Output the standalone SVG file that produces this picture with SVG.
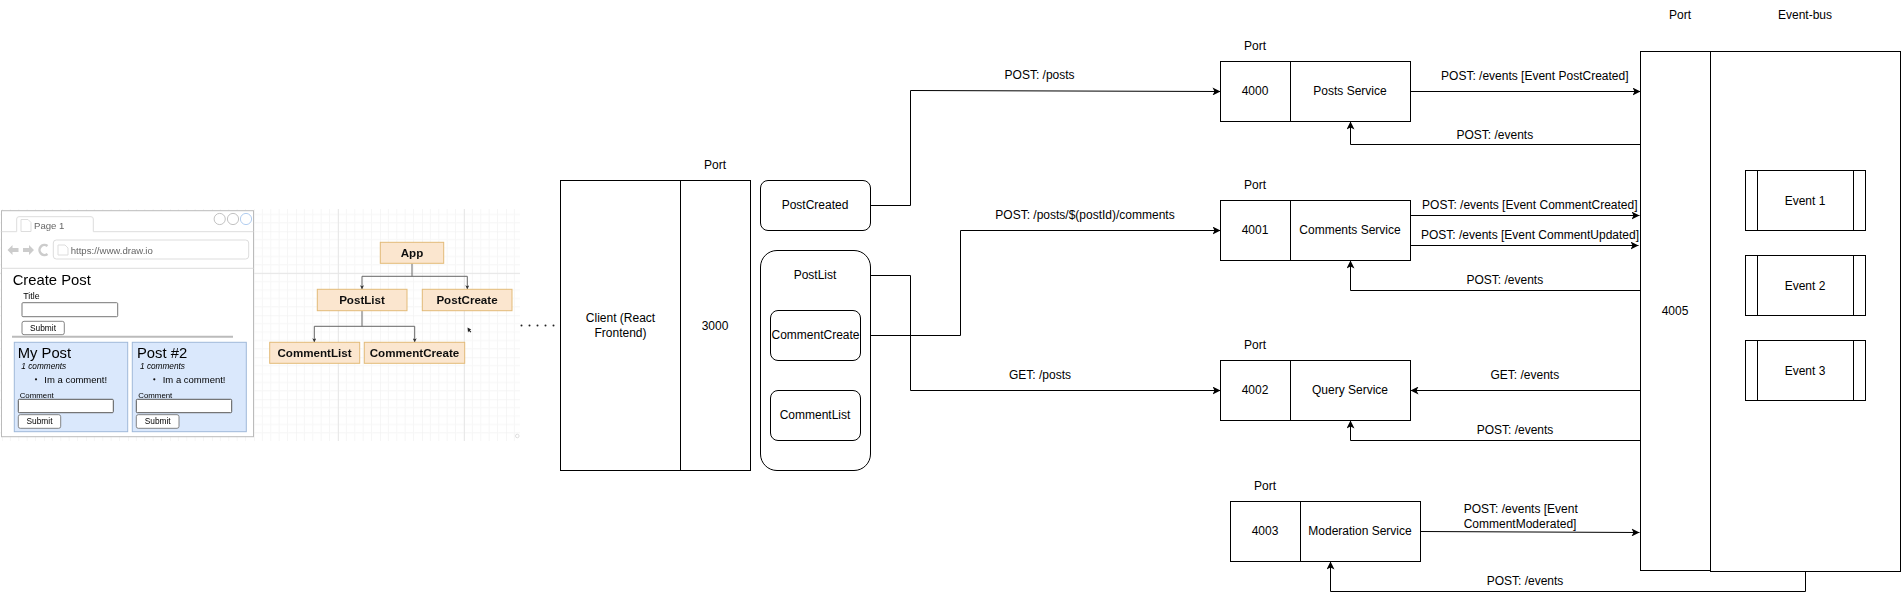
<svg xmlns="http://www.w3.org/2000/svg" width="1901" height="600" viewBox="0 0 1901 600">
<style>
text{font-family:"Liberation Sans",Arial,sans-serif;font-size:12px;fill:#000}
.c{text-anchor:middle}
.box{fill:#fff;stroke:#000;stroke-width:1}
.line{fill:none;stroke:#000;stroke-width:1}
.arrow{marker-end:url(#head)}
.org{fill:#fbe6cf;stroke:#e3bb78;stroke-width:1}
.org-t{font-weight:bold;font-size:11.6px;text-anchor:middle;fill:#111}
.tree{fill:none;stroke:#666;stroke-width:1;marker-end:url(#small)}
.tree0{fill:none;stroke:#666;stroke-width:1}
.chrome{fill:none;stroke:#ddd;stroke-width:1}
.g{fill:#666;font-size:9.6px}
.card{fill:#dae8fc;stroke:#9fb8d9;stroke-width:1}
.input{fill:#fff;stroke:#777;stroke-width:1;rx:1px}
.btn{fill:#fff;stroke:#666;stroke-width:.8;rx:2px}
.sub{font-size:8.35px;text-anchor:middle}
.h{font-size:14.8px}
.it{font-size:8.26px;font-style:italic}
.li{font-size:9.5px}
.lab{font-size:7.85px}
.nav{fill:#ccc}
.circ{fill:#fff;stroke:#bbb;stroke-width:.9}
</style>
<defs>
<marker id="head" markerUnits="userSpaceOnUse" markerWidth="8" markerHeight="8" viewBox="0 0 8 8" refX="8" refY="4" orient="auto"><path d="M8 4 0 8 2 4 0 0z" fill="#000"/></marker>
<marker id="small" markerUnits="userSpaceOnUse" markerWidth="4" markerHeight="4" viewBox="0 0 4 4" refX="4" refY="2" orient="auto"><path d="M4 2 0 4 1 2 0 0z" fill="#333"/></marker>
<pattern id="grid" patternUnits="userSpaceOnUse" x="2" y="21.3" width="42" height="42">
<path d="M8.4 0V42M16.8 0V42M25.2 0V42M33.6 0V42M0 8.4H42M0 16.8H42M0 25.2H42M0 33.6H42" fill="none" stroke="#f6f6f6" stroke-width="1"/>
<path d="M0 0V42M0 0H42" fill="none" stroke="#eee" stroke-width="1"/>
</pattern>
<filter id="soft" x="0" y="0" width="1" height="1"><feGaussianBlur stdDeviation="0.45"/></filter>
</defs>

<g id="mockups" filter="url(#soft)">
<rect x="0" y="209" width="520" height="232" fill="url(#grid)"/>
<path d="M338.3 209V441M464.3 209V441M0 273.3H520" fill="none" stroke="#e6e6e6"/>
<g id="browser">
<rect x="1.5" y="210.7" width="252" height="226" fill="#fff" stroke="#bbb"/>
<path class="chrome" d="M1.5 231.7H16.7V219a2.300 2.300 0 0 1 2.300-2.300H91a2.300 2.300 0 0 1 2.300 2.300V231.700H253.500M1.500 268.300H253.500"/>
<path class="chrome" d="M21 219.500h7l3 3v9h-10zM58 245h7l3 3v7h-10z" stroke="#ccc"/>
<text class="g" x="34" y="228.500">Page 1</text>
<circle class="circ" cx="219.700" cy="219" r="5.600"/><circle class="circ" cx="233" cy="219" r="5.600"/><circle class="circ" cx="246" cy="219" r="5.600" style="stroke:#a9c8ee"/>
<path class="nav" d="M7.500 250l5-5v3h6v4h-6v3zM34 250l-5-5v3h-6v4h6v3z"/>
<path fill="none" stroke="#ccc" stroke-width="2.500" d="M47.500 246a5 5 0 1 0 0 8"/>
<rect x="53.300" y="240" width="195.400" height="19" rx="3" class="chrome"/>
<text class="g" x="70.700" y="253.500">https://www.draw.io</text>
<text class="h" x="12.700" y="284.500">Create Post</text>
<text style="font-size:8.800px" x="23.300" y="298.500">Title</text>
<rect class="input" x="22" y="302.700" width="95.700" height="14"/>
<rect class="btn" x="22" y="321.300" width="42.300" height="13.400"/>
<text class="sub" x="43" y="330.700">Submit</text>
<path d="M12 336.700H233" stroke="#bbb" stroke-width="2"/>
</g>
<g id="card1">
<rect class="card" x="14.300" y="342.300" width="113.400" height="89.400"/>
<text class="h" x="17.700" y="358">My Post</text>
<text class="it" x="21.300" y="368.700">1 comments</text>
<circle cx="36" cy="379.300" r="1.100" fill="#111"/>
<text class="li" x="44.300" y="382.700">Im a comment!</text>
<text class="lab" x="19.700" y="398">Comment</text>
<rect class="input" x="18.300" y="399.300" width="95" height="13.400" style="stroke:#555"/>
<rect class="btn" x="18.300" y="414.700" width="42.400" height="13.600"/>
<text class="sub" x="39.500" y="424.300">Submit</text>
</g>
<g id="card2">
<rect class="card" x="132.300" y="342.300" width="114" height="89.400"/>
<text class="h" x="137" y="358">Post #2</text>
<text class="it" x="140" y="368.700">1 comments</text>
<circle cx="154.300" cy="379.300" r="1.100" fill="#111"/>
<text class="li" x="162.700" y="382.700">Im a comment!</text>
<text class="lab" x="138.300" y="398">Comment</text>
<rect class="input" x="136.300" y="399.300" width="95.400" height="13.400" style="stroke:#555"/>
<rect class="btn" x="136.300" y="414.700" width="42.700" height="13.600"/>
<text class="sub" x="157.700" y="424.300">Submit</text>
</g>
<g id="tree">
<path class="tree0" d="M412 263.300V276.300"/>
<path class="tree" d="M412 276.300H362V289.300"/><path class="tree" d="M412 276.300H467.300V289.300"/>
<path class="tree0" d="M362 310.700V326.300"/>
<path class="tree" d="M362 326.300H314.300V342.300"/><path class="tree" d="M362 326.300H414.700V342.300"/>
<rect class="org" x="380.300" y="242.300" width="63.400" height="21"/><text class="org-t" x="412" y="257">App</text>
<rect class="org" x="317.300" y="289.300" width="89.700" height="21.400"/><text class="org-t" x="362" y="304">PostList</text>
<rect class="org" x="422.300" y="289.300" width="89.700" height="21.400"/><text class="org-t" x="467" y="304">PostCreate</text>
<rect class="org" x="269.700" y="342.300" width="90" height="21"/><text class="org-t" x="314.500" y="357">CommentList</text>
<rect class="org" x="364.300" y="342.300" width="100.400" height="21"/><text class="org-t" x="414.500" y="357">CommentCreate</text>
<path d="M467.500 327.500l.5 5 1-1.500 1.500 1.500.8-.8-1.500-1.500 1.400-.8z" fill="#222"/>
<circle cx="517.300" cy="436" r="1.800" fill="none" stroke="#ddd"/>
</g>
</g>
<g id="dots" fill="#222">
<circle cx="521.500" cy="325.500" r="1"/><circle cx="529.500" cy="325.500" r="1"/><circle cx="537.500" cy="325.500" r="1"/><circle cx="545.500" cy="325.500" r="1"/><circle cx="553.500" cy="325.500" r="1"/>
</g>

<g id="connectors">
<path class="line arrow" d="M870.500 205.500H910.500V90.500L1220.500 91.500"/>
<path class="line arrow" d="M870.500 275.500H910.500V390.500H1220.500"/>
<path class="line arrow" d="M860.500 335.500H960.500V230.500H1220.500"/>
<path class="line arrow" d="M1410.500 91.500H1640.500"/>
<path class="line arrow" d="M1640.500 144.500H1350.500V121.500"/>
<path class="line arrow" d="M1410.500 215.500H1639.500"/>
<path class="line arrow" d="M1410.500 245.500H1638.500"/>
<path class="line arrow" d="M1640.500 290.500H1350.500V260.500"/>
<path class="line arrow" d="M1640.500 390.500H1410.500"/>
<path class="line arrow" d="M1640.500 440.500H1350.500V420.500"/>
<path class="line arrow" d="M1420.500 531.500L1639.500 532.500"/>
<path class="line arrow" d="M1805.500 571.500V591.500H1330.500V561.500"/>
</g>

<g id="edge-labels">
<text class="c" x="1039.600" y="79">POST: /posts</text>
<text class="c" x="1085" y="219">POST: /posts/$(postId)/comments</text>
<text class="c" x="1040" y="379">GET: /posts</text>
<text class="c" x="1534.800" y="79.500">POST: /events [Event PostCreated]</text>
<text class="c" x="1494.800" y="139">POST: /events</text>
<text class="c" x="1529.800" y="208.500">POST: /events [Event CommentCreated]</text>
<text class="c" x="1530" y="238.500">POST: /events [Event CommentUpdated]</text>
<text class="c" x="1504.800" y="284">POST: /events</text>
<text class="c" x="1524.800" y="379">GET: /events</text>
<text class="c" x="1515" y="433.500">POST: /events</text>
<text x="1463.700" y="513">POST: /events [Event</text>
<text x="1463.700" y="528">CommentModerated]</text>
<text class="c" x="1525" y="585">POST: /events</text>
</g>

<g id="client">
<text class="c" x="715" y="169">Port</text>
<rect class="box" x="560.500" y="180.500" width="120" height="290"/>
<rect class="box" x="680.500" y="180.500" width="70" height="290"/>
<text class="c" x="620.500" y="322">Client (React</text>
<text class="c" x="620.500" y="337">Frontend)</text>
<text class="c" x="715" y="329.500">3000</text>
</g>
<g id="postcreated">
<rect class="box" x="760.500" y="180.500" width="110" height="50" rx="7.500"/>
<text class="c" x="815" y="209">PostCreated</text>
</g>
<g id="postlist">
<rect class="box" x="760.500" y="250.500" width="110" height="220" rx="16.500"/>
<text class="c" x="815" y="279">PostList</text>
</g>
<g id="commentcreate">
<rect class="box" x="770.500" y="310.500" width="90" height="50" rx="7.500"/>
<text class="c" x="815.500" y="339">CommentCreate</text>
</g>
<g id="commentlist">
<rect class="box" x="770.500" y="390.500" width="90" height="50" rx="7.500"/>
<text class="c" x="815" y="419">CommentList</text>
</g>

<g id="posts-service">
<text class="c" x="1255" y="50">Port</text>
<rect class="box" x="1220.500" y="61.500" width="70" height="60"/>
<rect class="box" x="1290.500" y="61.500" width="120" height="60"/>
<text class="c" x="1255" y="95">4000</text>
<text class="c" x="1350" y="95">Posts Service</text>
</g>
<g id="comments-service">
<text class="c" x="1255" y="189">Port</text>
<rect class="box" x="1220.500" y="200.500" width="70" height="60"/>
<rect class="box" x="1290.500" y="200.500" width="120" height="60"/>
<text class="c" x="1255" y="234">4001</text>
<text class="c" x="1350" y="234">Comments Service</text>
</g>
<g id="query-service">
<text class="c" x="1255" y="349">Port</text>
<rect class="box" x="1220.500" y="360.500" width="70" height="60"/>
<rect class="box" x="1290.500" y="360.500" width="120" height="60"/>
<text class="c" x="1255" y="394">4002</text>
<text class="c" x="1350" y="394">Query Service</text>
</g>
<g id="moderation-service">
<text class="c" x="1265" y="490">Port</text>
<rect class="box" x="1230.500" y="501.500" width="70" height="60"/>
<rect class="box" x="1300.500" y="501.500" width="120" height="60"/>
<text class="c" x="1265" y="535">4003</text>
<text class="c" x="1360" y="535">Moderation Service</text>
</g>

<g id="event-bus">
<text class="c" x="1680" y="19">Port</text>
<text class="c" x="1805" y="19">Event-bus</text>
<rect class="box" x="1640.500" y="51.500" width="70" height="519"/>
<rect class="box" x="1710.500" y="51.500" width="190" height="520"/>
<text class="c" x="1675" y="315">4005</text>
</g>
<g id="event-1">
<rect class="box" x="1745.500" y="170.500" width="120" height="60"/>
<path class="line" d="M1757.500 170.500V230.500M1853.500 170.500V230.500"/>
<text class="c" x="1805" y="204.500">Event 1</text>
</g>
<g id="event-2">
<rect class="box" x="1745.500" y="255.500" width="120" height="60"/>
<path class="line" d="M1757.500 255.500V315.500M1853.500 255.500V315.500"/>
<text class="c" x="1805" y="290">Event 2</text>
</g>
<g id="event-3">
<rect class="box" x="1745.500" y="340.500" width="120" height="60"/>
<path class="line" d="M1757.500 340.500V400.500M1853.500 340.500V400.500"/>
<text class="c" x="1805" y="374.500">Event 3</text>
</g>
</svg>
